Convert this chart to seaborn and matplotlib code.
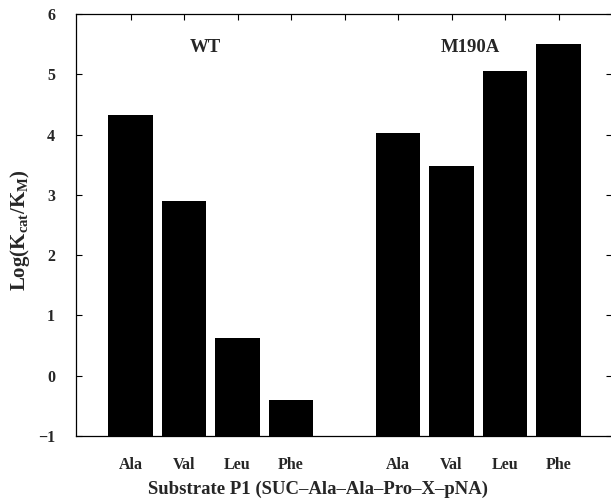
import matplotlib
matplotlib.use("Agg")
import matplotlib.pyplot as plt
import seaborn as sns
import pandas as pd

# ---- data ----
residues = ["Ala", "Val", "Leu", "Phe", "Ala", "Val", "Leu", "Phe"]
groups = ["WT", "WT", "WT", "WT", "M190A", "M190A", "M190A", "M190A"]
slot = [0, 1, 2, 3, 5, 6, 7, 8]
log_kcat_km = [4.32, 2.90, 0.63, -0.41, 4.03, 3.48, 5.05, 5.51]
baseline = -1
y_ticks = [-1, 0, 1, 2, 3, 4, 5, 6]

df = pd.DataFrame({"slot": slot, "residue": residues, "group": groups,
                   "value": log_kcat_km})
df["height"] = df["value"] - baseline

sns.set_theme(style="white")
plt.rcParams["font.family"] = ["Liberation Serif", "DejaVu Serif"]
plt.rcParams["font.weight"] = "bold"
plt.rcParams["mathtext.fontset"] = "custom"
plt.rcParams["mathtext.rm"] = "Liberation Serif:bold"
plt.rcParams["mathtext.default"] = "rm"

fig = plt.figure(figsize=(6.11, 5.01), dpi=100)
ax = fig.add_axes([76 / 611, 65 / 501, 536 / 611, 422 / 501])

sns.barplot(data=df, x="slot", y="height", native_scale=True, width=0.83,
            color="black", saturation=1, bottom=baseline, edgecolor="black",
            linewidth=0, ax=ax)

ax.set_xlim(-1.02, 9.0)
ax.set_ylim(-1, 6)

ax.set_xticks(range(9))
ax.set_xticklabels(residues[:4] + [""] + residues[4:])
ax.set_yticks(y_ticks)
ax.set_yticklabels([str(t).replace("-", "\u2212") for t in y_ticks])

ax.tick_params(axis="x", bottom=False, top=True, labelbottom=True,
               direction="in", length=4, width=0.8, color="black",
               labelsize=11.5, pad=15)
ax.tick_params(axis="y", left=True, right=True, direction="in", length=4,
               width=0.8, color="black", labelsize=11.5, pad=15)
for lab in ax.get_xticklabels() + ax.get_yticklabels():
    lab.set_fontweight("bold")

for s in ax.spines.values():
    s.set_color("black")
    s.set_linewidth(0.9)

ax.set_xlabel("Substrate P1 (SUC\u2013Ala\u2013Ala\u2013Pro\u2013X\u2013pNA)",
              fontsize=13.5, fontweight="bold")
ax.xaxis.set_label_coords((318 - 76) / 536, -0.105)
ax.set_ylabel(r"Log(K$_{\mathregular{cat}}$/K$_{\mathregular{M}}$)",
              fontsize=15, fontweight="bold")
ax.yaxis.set_label_coords(-(76 - 32) / 536, (436 - 230) / 422)

ax.text(1.39, 5.45, "WT", ha="center", va="center", fontsize=13.5,
        fontweight="bold")
ax.text(6.36, 5.45, "M190A", ha="center", va="center", fontsize=13.5,
        fontweight="bold")

fig.savefig("out.png", dpi=100, facecolor="white")
